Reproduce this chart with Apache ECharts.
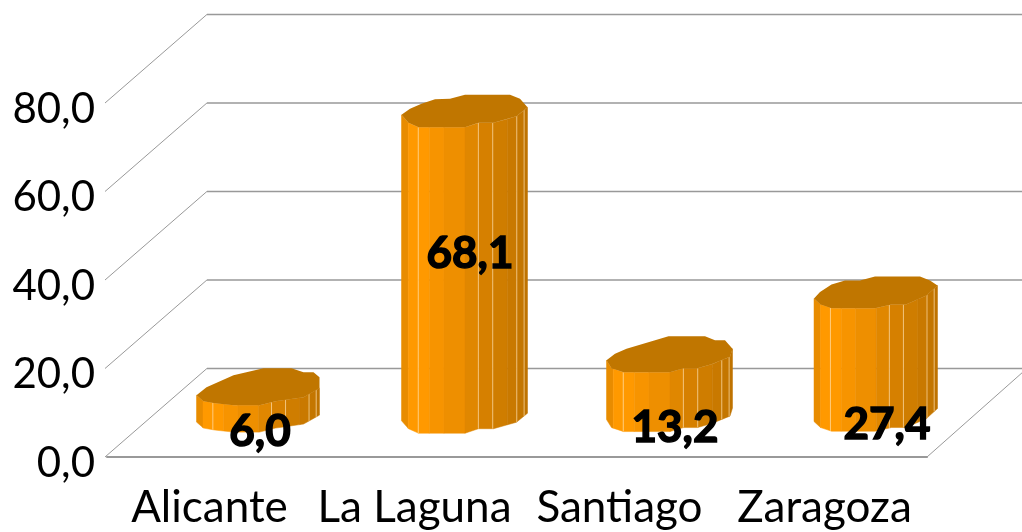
<!DOCTYPE html>
<html>
<head>
  <meta charset="utf-8">
  <script src="https://cdn.jsdelivr.net/npm/echarts@6/dist/echarts.min.js"></script>
  <style>
    html, body { margin: 0; padding: 0; background: #fff; }
  </style>
</head>
<body>
<div id="main" style="width: 1022px; height: 532px"></div>
<script>
  const categories = ['Alicante', 'La Laguna', 'Santiago', 'Zaragoza'];
  const values = [6.0, 68.1, 13.2, 27.4];
  const valueLabels = ['6,0', '68,1', '13,2', '27,4'];
  const yTicks = [0, 20, 40, 60, 80];
  const yTickLabels = ['0,0', '20,0', '40,0', '60,0', '80,0'];

  // fake 3d: how far the back wall sits from the front of the floor
  const depthX = 100;
  const depthY = 88.6;
  // bars sit halfway back, the original draws them a touch taller than the front scale
  const barStretch = 1.015;

  // lumpy cylinder caps, px around the middle of the top, left to right
  const backEdges = [
    [[-63, 9], [-53, 1], [-26, -11], [4, -18], [32, -18], [44, -14], [54, -14], [60, -9], [60, 2]],
    [[-63, 3.5], [-54.5, -2.5], [-43, -7.5], [-29.5, -12], [-14.5, -12.5], [0.5, -16.5], [45.5, -16.5], [55.5, -12.5], [63, -4]],
    [[-63, 6], [-54.5, -0.5], [-43, -5.5], [-1, -18], [35.5, -18], [45.5, -14], [55.5, -14], [63, -5.5]],
    [[-60.5, 7], [-54.5, 0.5], [-43, -7], [-29.5, -11], [-14.5, -11], [0.5, -15], [45.5, -15], [55.5, -11], [63, -6]]
  ];
  const frontEdges = [
    [[-63, 9], [-56, 15], [-44.5, 17], [-26, 19], [0, 19], [16, 15], [44, 11], [60, 2]],
    [[-63, 3.5], [-56, 11.5], [-46, 16], [0.5, 16], [14, 11.5], [29, 11.5], [52, 5], [63, -4]],
    [[-63, 6], [-58, 14], [-46, 18], [0.5, 18], [14, 14], [28, 14], [42, 10], [60.5, 2.5], [63, -5.5]],
    [[-60.5, 7], [-54, 13], [-43, 16.7], [0.5, 16.7], [17, 13], [31.5, 13], [52, 4], [63, -6]]
  ];
  // where each value label ends up, from the middle of the top
  const labelOffsets = [[0.5, 46], [5.5, 142], [5.5, 74], [12.5, 133]];

  // side facets, shaded left to right
  const stripStops = [0, 0.053, 0.133, 0.22, 0.337, 0.504, 0.61, 0.724, 0.841, 0.915, 0.973, 1];
  const stripColors = ['#E88C00', '#FF9900', '#FF9900', '#F79400', '#EE8F00', '#E08700', '#D68000', '#CF7D00', '#C97900', '#C47600', '#BF7300'];
  const stripHighlights = [2, 6, 7, 9, 10];
  const capColor = '#C07600';
  const wallColor = '#999999';

  function edgeY(edge, x) {
    for (let i = 1; i < edge.length; i++) {
      if (x <= edge[i][0]) {
        const t = (x - edge[i - 1][0]) / (edge[i][0] - edge[i - 1][0]);
        return edge[i - 1][1] + t * (edge[i][1] - edge[i - 1][1]);
      }
    }
    return edge[edge.length - 1][1];
  }

  function renderWall(params, api) {
    const y = api.coord([0, api.value(1)])[1];
    const sys = params.coordSys;
    const left = sys.x - 2;
    const right = sys.x + sys.width;
    const diagonal = { stroke: wallColor, lineWidth: 1, fill: null };
    const children = [
      { type: 'line', shape: { x1: left, y1: y, x2: sys.x + depthX, y2: y - depthY }, style: diagonal },
      {
        type: 'line',
        shape: { x1: sys.x + depthX, y1: y - depthY, x2: right + depthX, y2: y - depthY },
        style: { stroke: wallColor, lineWidth: 1.5, fill: null }
      }
    ];
    if (api.value(1) === 0) {
      children.push({ type: 'line', shape: { x1: right, y1: y, x2: right + depthX, y2: y - depthY }, style: diagonal });
    }
    return { type: 'group', children: children };
  }

  function renderBar(params, api) {
    const i = api.value(0);
    const value = api.value(1);
    const p = api.coord([i, value]);
    const cx = p[0] + depthX / 2;
    const cy = p[1] - depthY / 2;
    const h = api.size([0, value])[1] * barStretch;
    const back = backEdges[i];
    const front = frontEdges[i];
    const x0 = front[0][0];
    const x1 = front[front.length - 1][0];
    const children = [];

    for (let s = 0; s < stripColors.length; s++) {
      const xa = x0 + stripStops[s] * (x1 - x0);
      const xb = x0 + stripStops[s + 1] * (x1 - x0);
      const ya = cy + edgeY(front, xa);
      const yb = cy + edgeY(front, xb);
      // keep the kinks of the lower rim inside the facet
      const inner = front.filter(pt => pt[0] > xa && pt[0] < xb).map(pt => [cx + pt[0], cy + pt[1]]);
      const top = [[cx + xa, ya]].concat(inner, [[cx + xb, yb]]);
      const bottom = top.map(pt => [pt[0], pt[1] + h]).reverse();
      children.push({
        type: 'polygon',
        shape: { points: top.concat(bottom) },
        style: { fill: stripColors[s], stroke: stripColors[s], lineWidth: 0.5 }
      });
      if (stripHighlights.indexOf(s) >= 0) {
        children.push({
          type: 'line',
          shape: { x1: cx + xa, y1: ya, x2: cx + xa, y2: ya + h },
          style: { stroke: 'rgba(255,222,170,0.7)', lineWidth: 1, fill: null }
        });
      }
    }

    const cap = back.concat(front.slice(1, -1).reverse()).map(pt => [cx + pt[0], cy + pt[1]]);
    children.push({ type: 'polygon', shape: { points: cap }, style: { fill: capColor } });

    children.push({
      type: 'text',
      z2: 10,
      style: {
        x: cx + labelOffsets[i][0],
        y: cy + labelOffsets[i][1],
        text: valueLabels[i],
        fill: '#000',
        stroke: '#000',
        lineWidth: 1.5,
        font: 'bold 44px Lato',
        align: 'center',
        verticalAlign: 'middle'
      }
    });
    return { type: 'group', children: children };
  }

  const myChart = echarts.init(document.getElementById('main'), null, { renderer: 'canvas' });
  myChart.setOption({
    animation: false,
    backgroundColor: '#fff',
    grid: { left: 107, right: 95, top: 103, bottom: 75 },
    xAxis: {
      type: 'category',
      data: categories,
      axisTick: { show: false },
      axisLine: { show: true, lineStyle: { color: wallColor, width: 2 } },
      axisLabel: { interval: 0, color: '#000', fontFamily: 'Lato', fontSize: 44, margin: 29 }
    },
    yAxis: {
      type: 'value',
      min: 0,
      max: 80,
      interval: 20,
      axisLine: { show: false },
      axisTick: { show: false },
      splitLine: { show: false },
      axisLabel: {
        color: '#000',
        fontFamily: 'Lato',
        fontSize: 42,
        margin: 12,
        verticalAlign: 'top',
        lineHeight: 12,
        formatter: v => yTickLabels[yTicks.indexOf(v)]
      }
    },
    series: [
      {
        type: 'custom',
        silent: true,
        z: 1,
        renderItem: renderWall,
        data: yTicks.map(t => [0, t])
      },
      {
        type: 'custom',
        z: 2,
        renderItem: renderBar,
        data: values.map((v, i) => [i, v])
      }
    ]
  });
</script>
</body>
</html>
